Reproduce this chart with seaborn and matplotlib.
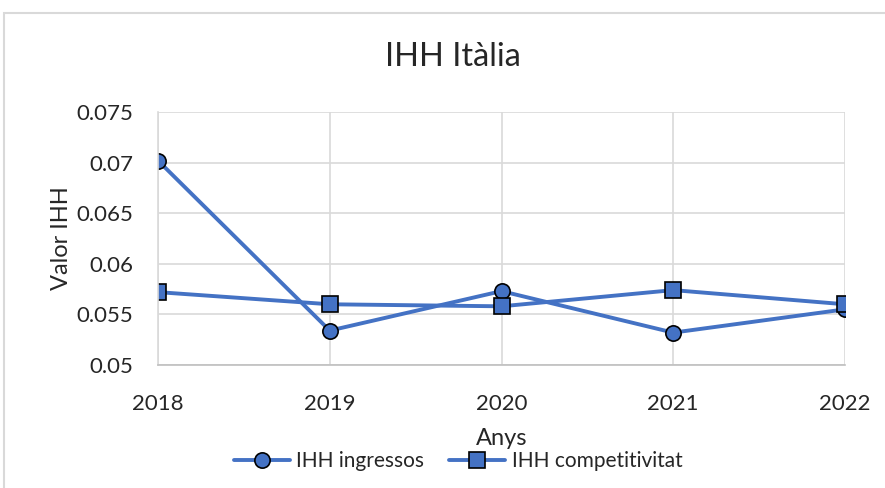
import matplotlib
matplotlib.use("Agg")
import matplotlib.pyplot as plt
import seaborn as sns
import pandas as pd
from matplotlib.patches import Rectangle

years = [2018, 2019, 2020, 2021, 2022]
ihh_ingressos = [0.0702, 0.0534, 0.0573, 0.0532, 0.0555]
ihh_competitivitat = [0.0572, 0.0560, 0.0558, 0.0574, 0.0560]
series_names = ["IHH ingressos", "IHH competitivitat"]
y_ticks = [0.05, 0.055, 0.06, 0.065, 0.07, 0.075]
y_tick_labels = ["0.05", "0.055", "0.06", "0.065", "0.07", "0.075"]

sns.set_theme(style="white")
plt.rcParams['font.family'] = ['Lato', 'DejaVu Sans']

df = pd.DataFrame({
    "Anys": years * 2,
    "Valor": ihh_ingressos + ihh_competitivitat,
    "Serie": [series_names[0]] * len(years) + [series_names[1]] * len(years),
})

fig = plt.figure(figsize=(8.85, 4.88), dpi=100)
ax = fig.add_axes([158/885, 1-365/488, (845-158)/885, (365-112)/488])

color = "#4472C4"
sns.lineplot(data=df, x="Anys", y="Valor", style="Serie", markers=["o", "s"],
             dashes=False, color=color, linewidth=2.8, markersize=11,
             markeredgecolor="black", markeredgewidth=1.2, ax=ax, legend=True)

ax.set_xlim(2018, 2022)
ax.set_ylim(0.05, 0.075)
ax.set_xticks(years)
ax.set_xticklabels([str(y) for y in years], fontsize=16)
ax.set_yticks(y_ticks)
ax.set_yticklabels(y_tick_labels, fontsize=16)
ax.tick_params(axis="y", length=0, pad=18)
ax.tick_params(axis="x", length=0, pad=21)
ax.grid(True, color="#D9D9D9", linewidth=1.2)
ax.set_axisbelow(True)
for s in ["top", "right"]:
    ax.spines[s].set_visible(False)
ax.spines["left"].set_color("#D9D9D9")
ax.spines["bottom"].set_color("#BFBFBF")
ax.spines["left"].set_linewidth(1.2)
ax.spines["bottom"].set_linewidth(1.2)

ax.set_xlabel("Anys", fontsize=17, labelpad=10)
ax.set_ylabel("Valor IHH", fontsize=17, labelpad=3)
fig.text(0.5 + 0.012, 1-57/488, "IHH Itàlia", ha="center", va="center", fontsize=23.5)

handles, labels = ax.get_legend_handles_labels()
for h in handles:
    h.set_color(color)
    h.set_markeredgecolor("black")
    h.set_markerfacecolor(color)
ax.legend(handles, labels, loc="center", bbox_to_anchor=(458/885, 1-461/488),
          bbox_transform=fig.transFigure, ncol=2, frameon=False, fontsize=15,
          handlelength=2.7, columnspacing=1.2, handletextpad=0.3)

fig.patches.append(Rectangle((4/885, -0.1), 1.2, (1-13/488) + 0.1, transform=fig.transFigure,
                             fill=False, edgecolor="#D9D9D9", linewidth=1.5))

fig.savefig("out.png", dpi=100, facecolor="white")
